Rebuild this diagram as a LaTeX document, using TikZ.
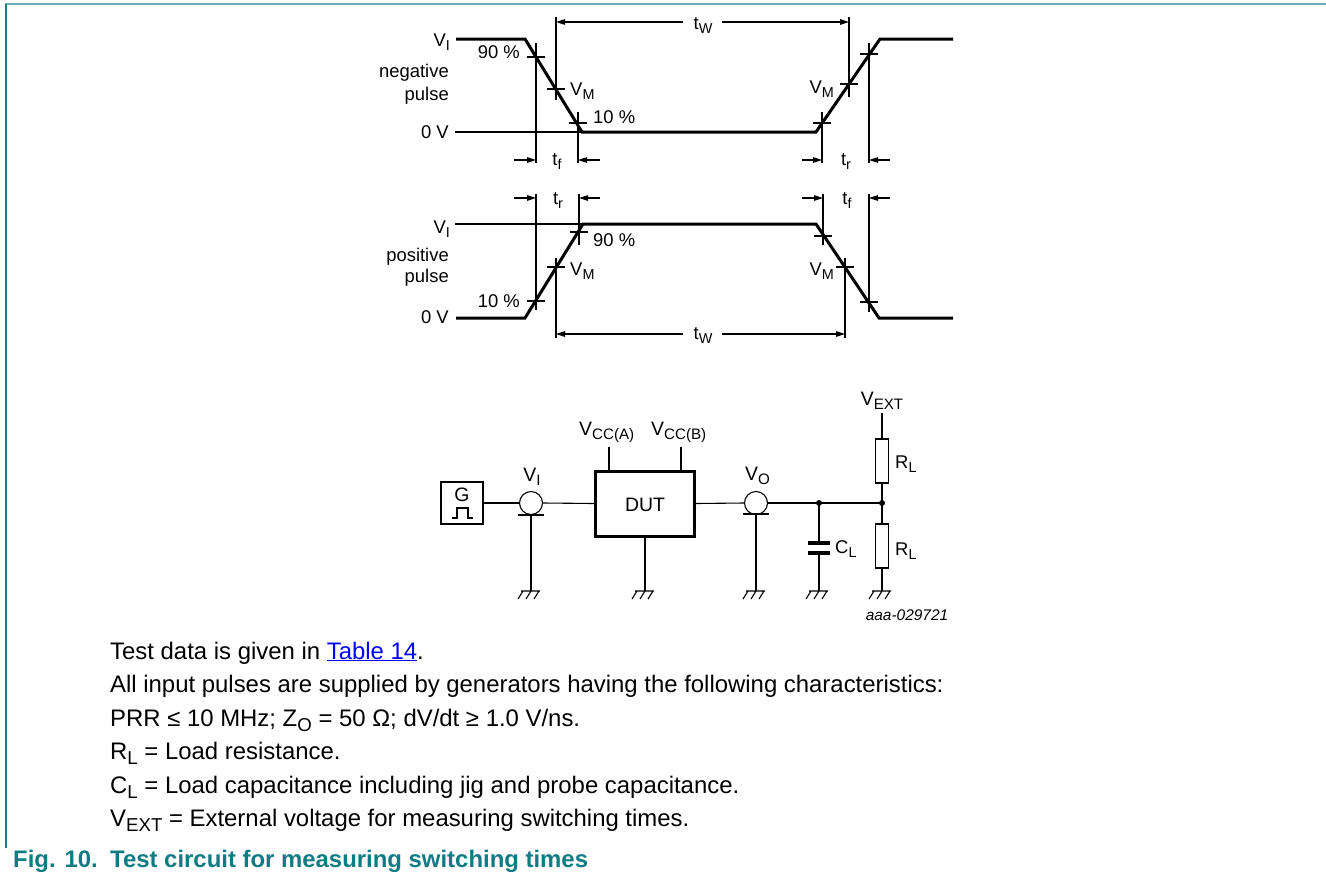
\documentclass[tikz,border=0pt]{standalone}
\usepackage{fontspec}
\usepackage{graphicx}
\setmainfont{Liberation Sans}
\usetikzlibrary{arrows.meta}
\definecolor{capteal}{HTML}{0F7B83}
\definecolor{linkblue}{HTML}{0000FF}
\definecolor{topteal}{HTML}{6AAEB3}
\definecolor{leftteal}{HTML}{1F7A80}
\newcommand\lo[1]{\raisebox{-0.22em}{\scalebox{0.78}{#1}}}
\begin{document}
\begin{tikzpicture}[x=1bp,y=-1bp,
  wire/.style={line width=1.1bp},
  sig/.style={line width=3bp, line join=miter},
  dim/.style={line width=1.1bp, -{Triangle[length=9bp,width=5.5bp]}},
  lbl/.style={inner sep=0, font=\fontsize{18.5}{20}\selectfont},
  clbl/.style={inner sep=0, font=\fontsize{19.5}{21}\selectfont},
  body/.style={inner sep=0, anchor=base west, font=\fontsize{24}{28}\selectfont},
  gnd/.pic={\draw[line width=1.1bp] (-10,0)--(9,0) (-8,0)--(-13,8) (0,0)--(-5,8) (8,0)--(3,8);}]
\useasboundingbox (0,0) rectangle (1326,879);
% frame
\draw[line width=2bp, topteal] (5,4) -- (1326,4);
\draw[line width=2bp, leftteal] (5.5,4) -- (5.5,848);

% ---------- negative pulse ----------
\coordinate (n0) at (456,39); \coordinate (n1) at (525,39); \coordinate (n2) at (582,132);
\coordinate (n3) at (816,132); \coordinate (n4) at (880,39); \coordinate (n5) at (953,39);
\draw[sig] (n0)--(n1)--(n2)--(n3)--(n4)--(n5);
\coordinate (nz) at (455,132);
\draw[wire] (nz) -- (n2);
\foreach \x/\y in {536/57,556/89,578/123,822/123,849/84,869/54}
  \draw[wire] (\x-9,\y)--(\x+9,\y);
\draw[wire] (536,43)--(536,163) (556,17)--(556,100) (578,112)--(578,163)
            (822,112)--(822,163) (849,17)--(849,97) (869,43)--(869,163);
\draw[dim] (514,160)--(536,160); \draw[dim] (600,160)--(578,160);
\draw[dim] (802,160)--(822,160); \draw[dim] (890,160)--(869,160);
\draw[dim] (683,22)--(556,22); \draw[dim] (722,22)--(849,22);
\node[lbl, anchor=base east] (a1) at (450,46) {V\lo{I}};
\node[lbl, anchor=base east] (a2) at (520,58) {90 \%};
\node[lbl, anchor=base east] (a3) at (449,77) {negative};
\node[lbl, anchor=base east] (a4) at (449,100) {pulse};
\node[lbl, anchor=base west] (a5) at (570,95) {V\lo{M}};
\node[lbl, anchor=base west] (a6) at (593,123) {10 \%};
\node[lbl, anchor=base east] (a7) at (449,138) {0 V};
\node[lbl, anchor=base] (a8) at (557,165) {t\lo{f}};
\node[lbl, anchor=base] (a9) at (703,29) {t\lo{W}};
\node[lbl, anchor=base east] (a10) at (834,93) {V\lo{M}};
\node[lbl, anchor=base] (a11) at (846,165) {t\lo{r}};

% ---------- positive pulse ----------
\coordinate (p0) at (456,318); \coordinate (p1) at (525,318); \coordinate (p2) at (583,224);
\coordinate (p3) at (816,224); \coordinate (p4) at (879,318); \coordinate (p5) at (953,318);
\draw[sig] (p0)--(p1)--(p2)--(p3)--(p4)--(p5);
\coordinate (pz) at (455,224);
\draw[wire] (pz) -- (p2);
\foreach \x/\y in {536/301,556/267,579/232,823/236,845/267,869/302}
  \draw[wire] (\x-9,\y)--(\x+9,\y);
\draw[wire] (536,194)--(536,310) (556,258)--(556,338) (579,194)--(579,245)
            (823,194)--(823,245) (845,258)--(845,338) (869,194)--(869,312);
\draw[dim] (514,198)--(536,198); \draw[dim] (600,198)--(579,198);
\draw[dim] (802,198)--(823,198); \draw[dim] (890,198)--(869,198);
\draw[dim] (683,334)--(556,334); \draw[dim] (722,334)--(845,334);
\node[lbl, anchor=base] (b1) at (558,204) {t\lo{r}};
\node[lbl, anchor=base east] (b2) at (450,233) {V\lo{I}};
\node[lbl, anchor=base west] (b3) at (593,246) {90 \%};
\node[lbl, anchor=base east] (b4) at (449,261) {positive};
\node[lbl, anchor=base east] (b5) at (449,282) {pulse};
\node[lbl, anchor=base west] (b6) at (570,275) {V\lo{M}};
\node[lbl, anchor=base east] (b7) at (520,307) {10 \%};
\node[lbl, anchor=base east] (b8) at (449,323) {0 V};
\node[lbl, anchor=base] (b9) at (703,339) {t\lo{W}};
\node[lbl, anchor=base] (b10) at (847,204) {t\lo{f}};
\node[lbl, anchor=base east] (b11) at (834,275) {V\lo{M}};

% ---------- circuit ----------
\node[draw, line width=1.3bp, minimum width=42bp, minimum height=42bp, inner sep=0] (G) at (462,503) {};
\node[clbl, anchor=base] (Gt) at (462,501) {G};
\draw[wire] (452,518)--(457,518)--(457,508)--(468,508)--(468,518)--(473,518);
\node[draw, wire, circle, minimum size=23bp, inner sep=0] (ci) at (531,503) {};
\draw[wire] (518,515)--(544,515);
\coordinate (cib) at (531,515);
\node[draw, line width=3bp, minimum width=99bp, minimum height=65bp, inner sep=0] (DUT) at (645,503.5) {};
\node[clbl, anchor=base] (DUTt) at (645,511) {DUT};
\node[draw, wire, circle, minimum size=23bp, inner sep=0] (co) at (756,503) {};
\draw[wire] (743,514)--(769,514);
\coordinate (cob) at (756,514);
\coordinate (j1) at (819,503); \coordinate (j2) at (882,503);
\node[draw, wire, minimum width=13bp, minimum height=44bp, inner sep=0] (R1) at (882,461) {};
\node[draw, wire, minimum width=13bp, minimum height=44bp, inner sep=0] (R2) at (882,546) {};
\coordinate (vext) at (882,413);
\coordinate (va) at (609,447); \coordinate (vb) at (681,447);
\coordinate (c1) at (819,543); \coordinate (c2) at (819,553);
\coordinate (g1) at (531,591); \coordinate (g2) at (645,591); \coordinate (g3) at (756,591);
\coordinate (g4) at (819,591); \coordinate (g5) at (882,591);

\draw[wire] (G.east) -- (ci.west);
\draw[wire] (ci.east) -- (DUT.west);
\draw[wire] (DUT.east) -- (co.west);
\draw[wire] (co.east) -- (j1) -- (j2);
\draw[wire] (va) -- (va |- DUT.north);
\draw[wire] (vb) -- (vb |- DUT.north);
\draw[wire] (DUT.south) -- (g2);
\draw[wire] (cib) -- (g1);
\draw[wire] (cob) -- (g3);
\draw[wire] (j1) -- (c1);
\draw[line width=3.8bp] (808,543) -- (830,543);
\draw[line width=3.8bp] (808,553) -- (830,553);
\draw[wire] (c2) -- (g4);
\draw[wire] (vext) -- (R1.north);
\draw[wire] (R1.south) -- (j2) -- (R2.north);
\draw[wire] (R2.south) -- (g5);
\fill (j1) circle (3bp);
\fill (j2) circle (3bp);
\foreach \g in {g1,g2,g3,g4,g5} \pic at (\g) {gnd};

\node[clbl, anchor=base] (l1) at (532,481) {V\lo{I}};
\node[clbl, anchor=base west] (l2) at (579,435) {V\lo{CC(A)}};
\node[clbl, anchor=base west] (l3) at (651,435) {V\lo{CC(B)}};
\node[clbl, anchor=base west] (l4) at (745,480) {V\lo{O}};
\node[lbl, anchor=base west] (l5) at (835,553) {C\lo{L}};
\node[lbl, anchor=base west] (l6) at (895,468) {R\lo{L}};
\node[lbl, anchor=base west] (l7) at (895,555) {R\lo{L}};
\node[clbl, anchor=base] (l8) at (882,405) {V\lo{EXT}};
\node[inner sep=0, anchor=base, font=\fontsize{15.5}{17}\selectfont\itshape] (code) at (907,620) {aaa-029721};

% ---------- text ----------
\node[body] (t1) at (110,659) {Test data is given in \textcolor{linkblue}{\underline{Table 14}}.};
\node[body] (t2) at (110,692.5) {All input pulses are supplied by generators having the following characteristics:};
\node[body] (t3) at (110,726) {PRR ≤ 10 MHz; Z\lo{O} = 50 Ω; dV/dt ≥ 1.0 V/ns.};
\node[body] (t4) at (110,759.5) {R\lo{L} = Load resistance.};
\node[body] (t5) at (110,793) {C\lo{L} = Load capacitance including jig and probe capacitance.};
\node[body] (t6) at (110,826.5) {V\lo{EXT} = External voltage for measuring switching times.};
\node[body, font=\fontsize{24}{28}\selectfont\bfseries, text=capteal] (f1) at (13,867) {Fig. 10.};
\node[body, font=\fontsize{24}{28}\selectfont\bfseries, text=capteal] (f2) at (110,867) {Test circuit for measuring switching times};
\end{tikzpicture}
\end{document}
